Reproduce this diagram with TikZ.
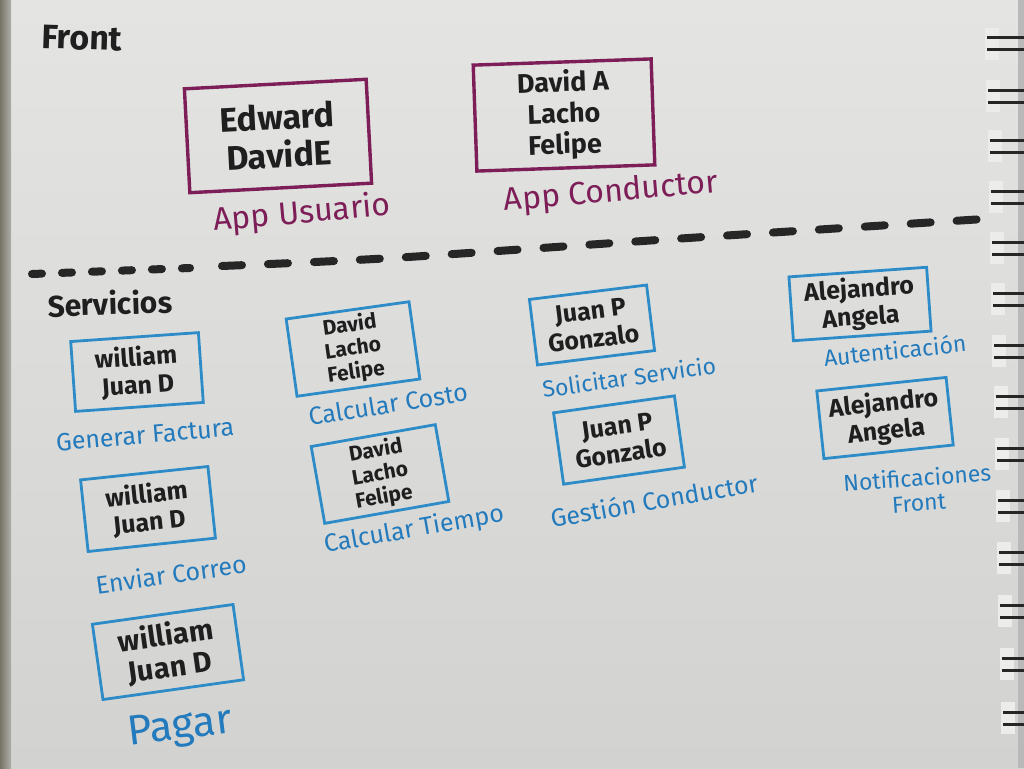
\documentclass[tikz,border=0pt]{standalone}
\usepackage{fontspec}
\setmainfont{Fira Sans}
\begin{document}
\begin{tikzpicture}[x=1pt,y=-1pt,
  pbox/.style={draw=inkpurple, line width=3.4pt, inner sep=1pt, align=center, text=black!88,
    font=\bfseries\fontsize{34}{38}\selectfont},
  bbox/.style={draw=inkblue, line width=2.8pt, inner sep=1pt, align=center, text=black!88,
    font=\bfseries\fontsize{25}{28}\selectfont},
  plabel/.style={text=inkpurple, font=\fontsize{32}{34}\selectfont},
  blabel/.style={text=labelblue, font=\fontsize{25}{28}\selectfont, align=center, inner sep=1pt},
  heading/.style={text=black!88, font=\bfseries\fontsize{34}{36}\selectfont},
  ring/.style={line width=3pt, draw=black!85}
]
\definecolor{inkpurple}{RGB}{125,30,88}
\definecolor{inkblue}{RGB}{45,140,200}
\definecolor{labelblue}{RGB}{35,122,188}
\definecolor{paperlight}{RGB}{228,229,227}
\definecolor{paperdark}{RGB}{210,211,209}

\useasboundingbox (0,0) rectangle (1024,768);

% paper, binding strip and table edge
\shade[top color=paperlight, bottom color=paperdark] (0,0) rectangle (1024,768);
\shade[left color={rgb,255:red,118;green,116;blue,102}, right color={rgb,255:red,175;green,175;blue,168}] (0,0) rectangle (11,768);
\fill[gray!55] (1018,0) rectangle (1024,768);

% spiral binding
\foreach \yy [count=\i] in {38,90,140,191,242,293,345,396,448,500,552,605,658,712} {
  \pgfmathsetmacro{\xx}{986+\i*1.2}
  \fill[paperlight!70!white] (\xx-2,\yy-10) rectangle (\xx+12,\yy+22);
  \draw[ring] (\xx,\yy) -- (1024,\yy);
  \draw[ring] (\xx,\yy+12) -- (1024,\yy+12);
}

% section headings
\node[heading, rotate=-2] (front) at (82,38) {Front};
\node[heading, font=\bfseries\fontsize{30}{32}\selectfont, rotate=2] (serv) at (110,303) {Servicios};

% divider between front and services: short dashes on the left, longer to the right
\draw[line width=8pt, black!85, line cap=round, dash pattern=on 10pt off 20pt]
  (32,274) -- (190,268);
\draw[line width=8pt, black!85, line cap=round, dash pattern=on 20pt off 26pt]
  plot[smooth] coordinates {(222,266) (392,258) (673,239) (984,219)};

% front applications
\node[pbox, rotate=3, minimum width=182pt, minimum height=104pt] (usr) at (278,136) {Edward\\DavidE};
\node[pbox, rotate=2, minimum width=178pt, minimum height=106pt,
      font=\bfseries\fontsize{27}{31}\selectfont] (cond) at (564,115) {David A\\Lacho\\Felipe};
\node[plabel, rotate=5] (usrl) at (302,214) {App Usuario};
\node[plabel, rotate=5] (condl) at (611,193) {App Conductor};

% services
\node[bbox, rotate=4, minimum width=128pt, minimum height=70pt] (fac) at (137,372) {william\\Juan D};
\node[bbox, rotate=6, minimum width=128pt, minimum height=72pt] (cor) at (148,509) {william\\Juan D};
\node[bbox, rotate=8, minimum width=142pt, minimum height=76pt,
      font=\bfseries\fontsize{29}{32}\selectfont] (pag) at (168,652) {william\\Juan D};
\node[bbox, rotate=8, minimum width=124pt, minimum height=78pt,
      font=\bfseries\fontsize{21}{23.5}\selectfont] (cos) at (353,349) {David\\Lacho\\Felipe};
\node[bbox, rotate=10, minimum width=126pt, minimum height=78pt,
      font=\bfseries\fontsize{21}{23.5}\selectfont] (tie) at (380,474) {David\\Lacho\\Felipe};
\node[bbox, rotate=7, minimum width=118pt, minimum height=66pt] (sol) at (592,325) {Juan P\\Gonzalo};
\node[bbox, rotate=8, minimum width=122pt, minimum height=72pt] (ges) at (619,440) {Juan P\\Gonzalo};
\node[bbox, rotate=4, minimum width=138pt, minimum height=64pt] (aut) at (860,304) {Alejandro\\Angela};
\node[bbox, rotate=6, minimum width=130pt, minimum height=68pt] (noti) at (885,418) {Alejandro\\Angela};

\node[blabel, rotate=5] (facl) at (145,435) {Generar Factura};
\node[blabel, rotate=8] (corl) at (171,574) {Enviar Correo};
\node[blabel, rotate=7, font=\fontsize{42}{44}\selectfont] (pagl) at (180,729) {Pagar};
\node[blabel, rotate=9] (cosl) at (388,404) {Calcular Costo};
\node[blabel, rotate=10] (tiel) at (414,530) {Calcular Tiempo};
\node[blabel, rotate=8, font=\fontsize{23}{25}\selectfont] (soll) at (629,377) {Solicitar Servicio};
\node[blabel, rotate=10] (gesl) at (654,500) {Gestión Conductor};
\node[blabel, rotate=6, font=\fontsize{23}{25}\selectfont] (autl) at (895,350) {Autenticación};
\node[blabel, rotate=4, font=\fontsize{23}{25}\selectfont] (notil) at (918,490) {Notificaciones\\Front};
\end{tikzpicture}
\end{document}
